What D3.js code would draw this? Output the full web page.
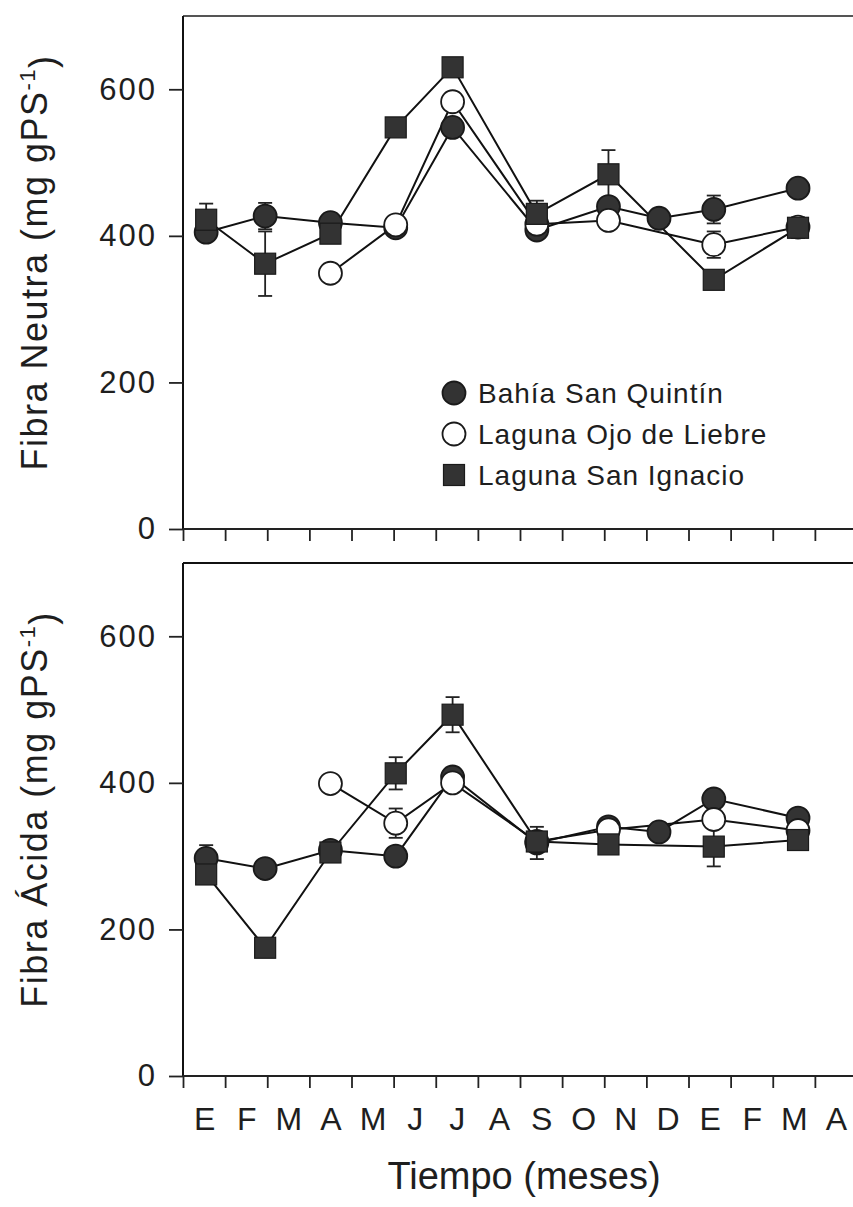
<!DOCTYPE html>
<html>
<head>
<meta charset="utf-8">
<script src="https://cdn.jsdelivr.net/npm/d3@7"></script>
<style>
  body { margin: 0; background: white; }
  text { font-family: "Liberation Sans", Arial, sans-serif; fill: #1e1e1e; }
</style>
</head>
<body>
<div id="graph"></div>
<script>
// month tick labels (E = enero ... two years)
var months = ["E", "F", "M", "A", "M", "J", "J", "A", "S", "O", "N", "D", "E", "F", "M", "A"]
// sampling dates, in months from the start of the axis
var sampleTimes = [0.55, 1.95, 3.5, 5.05, 6.4, 8.4, 10.1, 11.3, 12.6, 14.6]
var sites = ["Bahía San Quintín", "Laguna Ojo de Liebre", "Laguna San Ignacio"]
var yTicks = [0, 200, 400, 600]

// Fibra Neutra (mg gPS-1)
var neutraBahia = [405, 427, 418, 411, 548, 408, 440, 424, 436, 465]
var neutraOjo = [null, null, 349, 415, 583, 416, 421, null, 388, 412]
var neutraIgnacio = [422, 362, 403, 548, 630, 430, 484, null, 340, 411]
var neutraBahiaErr = [0, 18, 0, 0, 0, 0, 0, 0, 19, 0]
var neutraOjoErr = [0, 0, 0, 0, 0, 0, 0, 0, 18, 0]
var neutraIgnacioErr = [22, 44, 0, 0, 0, 18, 33, 0, 0, 14]

// Fibra Ácida (mg gPS-1)
var acidaBahia = [297, 283, 308, 300, 408, 318, 340, 333, 378, 352]
var acidaOjo = [null, null, 399, 345, 400, 320, 336, null, 350, 335]
var acidaIgnacio = [275, 175, 305, 413, 493, 320, 316, null, 313, 322]
var acidaBahiaErr = [18, 0, 0, 0, 0, 22, 0, 0, 0, 0]
var acidaOjoErr = [0, 0, 0, 20, 0, 0, 0, 0, 0, 0]
var acidaIgnacioErr = [0, 0, 0, 22, 24, 0, 0, 0, 27, 0]

var w = 853, h = 1207

var svg = d3.select('#graph')
  .append('svg')
  .attr("width", w)
  .attr("height", h)
  .style("background", "white")

var x = d3.scaleLinear()
  .domain([0, 16])
  .range([183, 857])

var symbols = ["filled", "open", "square"]

var panels = [
  {top: 16, bottom: 529, title: "Fibra Neutra", values: [neutraBahia, neutraOjo, neutraIgnacio],
   errors: [neutraBahiaErr, neutraOjoErr, neutraIgnacioErr], months: false, legend: true, border: "#555"},
  {top: 563, bottom: 1076, title: "Fibra Ácida", values: [acidaBahia, acidaOjo, acidaIgnacio],
   errors: [acidaBahiaErr, acidaOjoErr, acidaIgnacioErr], months: true, legend: false, border: "#111"}
]

panels.forEach(p => {
  var y = d3.scaleLinear()
    .domain([0, 700])
    .range([p.bottom, p.top])

  var g = svg.append("g")

  // top border line
  g.append("line")
    .attr("x1", x(0)).attr("x2", w)
    .attr("y1", y(700)).attr("y2", y(700))
    .attr("stroke", p.border)
    .attr("stroke-width", 2)

  // y axis
  var yAxis = g.append("g")
    .attr("transform", "translate(" + x(0) + ",0)")
    .call(d3.axisLeft(y).tickValues(yTicks).tickSize(14).tickPadding(12))
  yAxis.select(".domain")
    .attr("d", "M0," + y(0) + "V" + y(700))
    .attr("stroke", "#111")
    .attr("stroke-width", 2)
  yAxis.selectAll(".tick line").attr("stroke", "#222").attr("stroke-width", 1.8)
  yAxis.selectAll(".tick text")
    .style("font-size", "31px")
    .style("letter-spacing", "2px")
    .style("font-family", "'Liberation Sans', Arial, sans-serif")
    .attr("fill", "#1e1e1e")

  // x axis (unlabelled ticks at month boundaries)
  var xAxis = g.append("g")
    .attr("transform", "translate(0," + y(0) + ")")
    .call(d3.axisBottom(x).tickValues(d3.range(0, 16)).tickSize(12).tickFormat(""))
  xAxis.select(".domain")
    .attr("d", "M" + x(0) + ",0H" + w)
    .attr("stroke", "#222")
    .attr("stroke-width", 2)
  xAxis.selectAll(".tick line").attr("stroke", "#222").attr("stroke-width", 1.8)

  if (p.months) {
    var mAxis = g.append("g")
      .attr("transform", "translate(0," + y(0) + ")")
      .call(d3.axisBottom(x)
        .tickValues(d3.range(0, 16).map(k => k + 0.5))
        .tickSize(0)
        .tickPadding(31)
        .tickFormat((d, i) => months[i]))
    mAxis.select(".domain").remove()
    mAxis.selectAll(".tick text")
      .style("font-size", "32px")
      .style("font-family", "'Liberation Sans', Arial, sans-serif")
      .attr("fill", "#1e1e1e")
  }

  // y title with superscript
  var title = g.append("text")
    .attr("transform", "translate(47," + ((p.top + p.bottom) / 2 - 10) + ") rotate(-90)")
    .attr("text-anchor", "middle")
    .style("font-size", "36px")
    .style("letter-spacing", "1.5px")
  title.append("tspan").text(p.title + " (mg gPS")
  title.append("tspan").attr("dy", "-0.55em").style("font-size", "22px").text("-1")
  title.append("tspan").attr("dy", "0.55em").text(")")

  // lines
  var line = d3.line()
    .x(d => x(d.t))
    .y(d => y(d.v))

  var series = p.values.map((vals, s) => vals.map((v, i) => ({
    t: sampleTimes[i], v: v, e: p.errors[s][i], s: s
  })).filter(d => d.v != null))

  g.append("g").selectAll("path")
    .data(series)
    .enter()
    .append("path")
    .attr("d", line)
    .attr("fill", "none")
    .attr("stroke", "#111")
    .attr("stroke-width", 2)

  // error bars
  series.forEach(pts => {
    var eb = g.append("g").selectAll("g")
      .data(pts.filter(d => d.e > 0))
      .enter()
      .append("g")
      .attr("stroke", "#222")
      .attr("stroke-width", 1.8)
    eb.append("line")
      .attr("x1", d => x(d.t)).attr("x2", d => x(d.t))
      .attr("y1", d => y(d.v - d.e)).attr("y2", d => y(d.v + d.e))
    eb.append("line")
      .attr("x1", d => x(d.t) - 7).attr("x2", d => x(d.t) + 7)
      .attr("y1", d => y(d.v + d.e)).attr("y2", d => y(d.v + d.e))
    eb.append("line")
      .attr("x1", d => x(d.t) - 7).attr("x2", d => x(d.t) + 7)
      .attr("y1", d => y(d.v - d.e)).attr("y2", d => y(d.v - d.e))
  })

  // markers
  series.forEach((pts, s) => {
    drawMarkers(g, pts, symbols[s], d => x(d.t), d => y(d.v))
  })

  if (p.legend) {
    var lg = g.append("g")
    sites.forEach((name, i) => {
      var cy = 393 + i * 41
      drawMarkers(lg, [{}], symbols[i], () => 454, () => cy)
      lg.append("text")
        .attr("x", 478)
        .attr("y", cy + 10)
        .style("font-size", "28px")
        .style("letter-spacing", "1px")
        .text(name)
    })
  }
})

function drawMarkers(sel, pts, kind, fx, fy) {
  if (kind == "square") {
    sel.append("g").selectAll("rect")
      .data(pts)
      .enter()
      .append("rect")
      .attr("x", d => fx(d) - 10.5)
      .attr("y", d => fy(d) - 10.5)
      .attr("width", 21)
      .attr("height", 21)
      .attr("fill", "#333")
      .attr("stroke", "#1a1a1a")
      .attr("stroke-width", 1.2)
  } else {
    sel.append("g").selectAll("circle")
      .data(pts)
      .enter()
      .append("circle")
      .attr("cx", fx)
      .attr("cy", fy)
      .attr("r", 11.5)
      .attr("fill", kind == "filled" ? "#333" : "white")
      .attr("stroke", "#1a1a1a")
      .attr("stroke-width", 1.8)
  }
}

// x title
svg.append("text")
  .attr("x", 524)
  .attr("y", 1189)
  .attr("text-anchor", "middle")
  .style("font-size", "38px")
  .text("Tiempo (meses)")
</script>
</body>
</html>
